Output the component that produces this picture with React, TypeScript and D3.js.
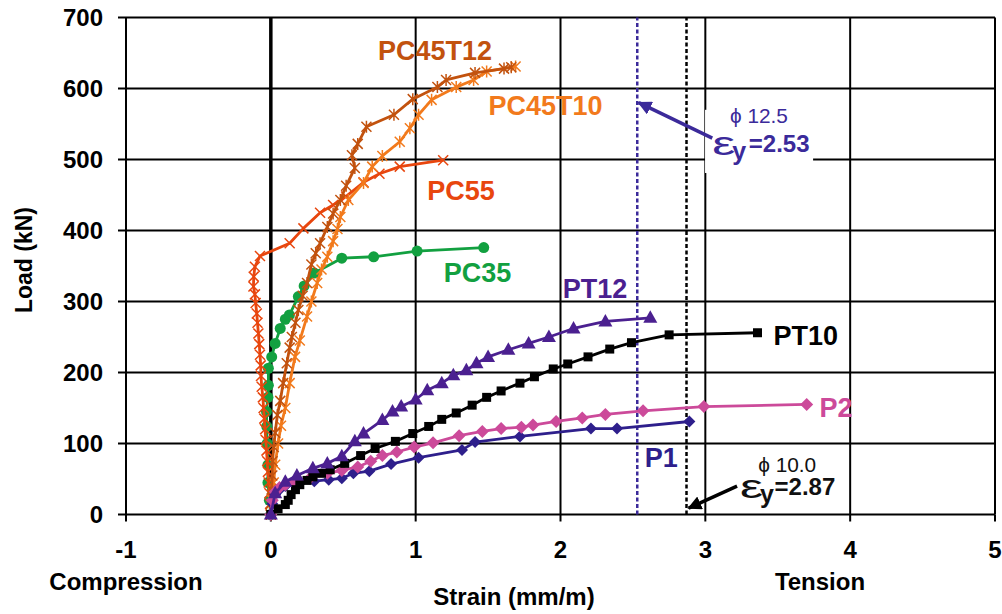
import React, { useEffect, useRef } from "react";
import * as d3 from "d3";

// axis ticks
const xTicks = [-1, 0, 1, 2, 3, 4, 5];
const yTicks = [0, 100, 200, 300, 400, 500, 600, 700];

// [strain (mm/m), load (kN)]
const pc45t12 = [[0,0],[0,15],[0.005,35],[0.01,55],[0.012,75],[0.02,95],[0.03,115],[0.045,140],[0.065,160],[0.085,185],[0.11,213],[0.13,235],[0.145,250],[0.17,270],[0.19,288],[0.22,308],[0.25,326],[0.28,352],[0.31,368],[0.34,382],[0.39,405],[0.43,424],[0.48,443],[0.52,463],[0.58,488],[0.56,506],[0.6,522],[0.66,546],[0.85,563],[0.98,585],[1.15,602],[1.21,612],[1.41,622],[1.61,628],[1.66,630]];
const pc45t10 = [[0,0],[0.01,20],[0.02,45],[0.03,70],[0.05,100],[0.07,125],[0.1,150],[0.13,185],[0.167,222],[0.2,245],[0.25,279],[0.28,300],[0.32,326],[0.35,345],[0.39,363],[0.43,385],[0.46,402],[0.48,419],[0.535,443],[0.64,467],[0.7,490],[0.77,505],[0.89,525],[0.96,544],[1.02,563],[1.11,584],[1.28,602],[1.4,612],[1.49,624],[1.69,631]];
const pc55 = [[0,0],[-0.005,15],[-0.01,30],[-0.015,45],[-0.02,60],[-0.025,75],[-0.03,90],[-0.035,105],[-0.04,120],[-0.045,135],[-0.05,150],[-0.055,165],[-0.063,180],[-0.068,195],[-0.07,210],[-0.075,225],[-0.08,240],[-0.086,255],[-0.092,270],[-0.097,283],[-0.105,298],[-0.11,310],[-0.12,321],[-0.118,335],[-0.11,349],[-0.075,364],[0.13,382],[0.225,403],[0.34,425],[0.43,436],[0.52,448],[0.64,468],[0.75,480],[0.89,490],[1.19,499]];
const pc35 = [[0,0],[-0.01,20],[-0.02,45],[-0.02,70],[-0.025,100],[-0.028,124],[-0.03,145],[-0.02,165],[-0.017,182],[-0.017,206],[0.006,222],[0.03,241],[0.065,262],[0.1,275],[0.128,281],[0.19,307],[0.23,322],[0.3,340],[0.49,361],[0.71,363],[1.01,371],[1.47,376]];
const pt12 = [[0,0],[0.03,30],[0.1,46],[0.18,55],[0.29,65],[0.39,72],[0.49,82],[0.58,103],[0.64,114],[0.77,133],[0.84,145],[0.9,152],[1.0,162],[1.08,175],[1.18,185],[1.26,196],[1.35,203],[1.42,213],[1.5,222],[1.64,232],[1.78,241],[1.92,250],[2.09,262],[2.31,272],[2.62,277]];
const pt10 = [[0,0],[0.05,8],[0.1,14],[0.12,20],[0.14,28],[0.17,35],[0.2,42],[0.25,48],[0.29,53],[0.35,58],[0.41,63],[0.51,72],[0.62,83],[0.72,93],[0.86,103],[0.98,114],[1.09,124],[1.18,134],[1.28,143],[1.39,154],[1.49,165],[1.59,174],[1.72,185],[1.82,194],[1.95,205],[2.05,212],[2.19,222],[2.34,233],[2.49,242],[2.75,253],[3.36,256]];
const p2 = [[0,0],[0.01,20],[0.03,32],[0.06,38],[0.1,42],[0.16,46],[0.27,51],[0.39,58],[0.49,62],[0.6,67],[0.69,75],[0.77,83],[0.87,88],[0.99,95],[1.12,101],[1.3,111],[1.46,117],[1.59,121],[1.73,123],[1.81,126],[1.97,131],[2.15,136],[2.31,141],[2.57,146],[2.99,152],[3.7,155]];
const p1 = [[0,0],[0.01,15],[0.03,28],[0.06,35],[0.1,40],[0.2,44],[0.3,47],[0.4,49],[0.49,51],[0.57,58],[0.68,61],[0.83,71],[1.02,80],[1.32,91],[1.41,102],[1.72,110],[2.21,121],[2.39,121],[2.89,131]];

// yield strains
const yieldLines = [
  { value: 2.53, color: "#3B2A9A" },
  { value: 2.87, color: "#000000" },
];

const series = [
  { name: "PC35", data: pc35, color: "#12A040", marker: "circle", label: [1.427, 327] },
  { name: "PC55", data: pc55, color: "#E8460E", marker: "x", label: [1.313, 443] },
  { name: "PC45T10", data: pc45t10, color: "#F27A1C", marker: "star", label: [1.897, 563] },
  { name: "PC45T12", data: pc45t12, color: "#C2520E", marker: "star", label: [1.134, 640] },
  { name: "P1", data: p1, color: "#2E1F8C", marker: "diamond", label: [2.695, 67] },
  { name: "P2", data: p2, color: "#CC4A9A", marker: "diamondL", label: [3.903, 137] },
  { name: "PT10", data: pt10, color: "#000000", marker: "square", label: [3.693, 239] },
  { name: "PT12", data: pt12, color: "#4B2090", marker: "triangle", label: [2.239, 305] },
];

const FONT = "'Liberation Sans', Arial, sans-serif";

const markerPath = (type: string) => {
  switch (type) {
    case "x":
      return "M-5,-5L5,5M-5,5L5,-5";
    case "star":
      return "M-5,-5L5,5M-5,5L5,-5M0,-6L0,6";
    case "triangle":
      return "M0,-7.5L7,5L-7,5Z";
    case "square":
      return "M-4.5,-4.5L4.5,-4.5L4.5,4.5L-4.5,4.5Z";
    case "diamond":
      return "M0,-6L6,0L0,6L-6,0Z";
    case "diamondL":
      return "M0,-6.5L6.5,0L0,6.5L-6.5,0Z";
    default:
      return "";
  }
};

const App = () => {
  const chartRef = useRef<HTMLDivElement>(null);

  useEffect(() => {
    d3.select(chartRef.current).select("svg").remove();

    const W = 1002;
    const H = 614;

    const svg = d3
      .select(chartRef.current)
      .append("svg")
      .attr("width", W)
      .attr("height", H)
      .style("position", "absolute")
      .style("left", "0px")
      .style("top", "0px")
      .style("background", "#fff");

    const x = d3.scaleLinear().domain([-1, 5]).range([126, 995]);
    const y = d3.scaleLinear().domain([0, 700]).range([514.5, 17.5]);

    // gridlines
    const grid = svg.append("g");
    grid.selectAll(".hgrid")
      .data(yTicks)
      .enter()
      .append("line")
      .attr("x1", x(-1))
      .attr("x2", x(5))
      .attr("y1", (d) => y(d))
      .attr("y2", (d) => y(d))
      .attr("stroke", "#000")
      .attr("stroke-width", 2);
    grid.selectAll(".vgrid")
      .data(xTicks)
      .enter()
      .append("line")
      .attr("x1", (d) => x(d))
      .attr("x2", (d) => x(d))
      .attr("y1", y(0))
      .attr("y2", y(700))
      .attr("stroke", "#000")
      .attr("stroke-width", (d) => (d === 0 ? 3.5 : 2));

    // ticks
    grid.selectAll(".ytick")
      .data(yTicks)
      .enter()
      .append("line")
      .attr("x1", x(-1) - 8)
      .attr("x2", x(-1))
      .attr("y1", (d) => y(d))
      .attr("y2", (d) => y(d))
      .attr("stroke", "#000")
      .attr("stroke-width", 2);
    grid.selectAll(".xtick")
      .data(xTicks)
      .enter()
      .append("line")
      .attr("x1", (d) => x(d))
      .attr("x2", (d) => x(d))
      .attr("y1", y(0))
      .attr("y2", y(0) + 7)
      .attr("stroke", "#000")
      .attr("stroke-width", 2);

    // tick labels
    svg.selectAll(".ylab")
      .data(yTicks)
      .enter()
      .append("text")
      .attr("x", 103)
      .attr("y", (d) => y(d))
      .attr("dy", "0.36em")
      .attr("text-anchor", "end")
      .style("font-family", FONT)
      .style("font-weight", "bold")
      .style("font-size", "24px")
      .text((d) => d);
    svg.selectAll(".xlab")
      .data(xTicks)
      .enter()
      .append("text")
      .attr("x", (d) => x(d))
      .attr("y", 558)
      .attr("text-anchor", "middle")
      .style("font-family", FONT)
      .style("font-weight", "bold")
      .style("font-size", "24px")
      .text((d) => d);

    // axis titles
    const title = (txt: string, tx: number, ty: number) =>
      svg.append("text")
        .attr("x", tx)
        .attr("y", ty)
        .attr("text-anchor", "middle")
        .style("font-family", FONT)
        .style("font-weight", "bold")
        .style("font-size", "24px")
        .text(txt);
    title("Compression", 126, 590);
    title("Tension", 820, 590);
    title("Strain (mm/m)", 514, 605);
    svg.append("text")
      .attr("transform", "translate(32,260) rotate(-90)")
      .attr("text-anchor", "middle")
      .style("font-family", FONT)
      .style("font-weight", "bold")
      .style("font-size", "23px")
      .text("Load (kN)");

    // white box behind the 12.5 annotation
    svg.append("rect")
      .attr("x", x(2.998))
      .attr("y", y(570))
      .attr("width", x(3.744) - x(2.998))
      .attr("height", y(481) - y(570))
      .attr("fill", "#fff");

    // yield strain lines
    svg.selectAll(".yield")
      .data(yieldLines)
      .enter()
      .append("line")
      .attr("x1", (d) => x(d.value))
      .attr("x2", (d) => x(d.value))
      .attr("y1", y(0))
      .attr("y2", y(700))
      .attr("stroke", (d) => d.color)
      .attr("stroke-width", 2.5)
      .attr("stroke-dasharray", "4,2.5");

    // series
    const line = d3.line<number[]>()
      .x((d) => x(d[0]))
      .y((d) => y(d[1]));

    series.forEach((s) => {
      const g = svg.append("g");
      g.append("path")
        .attr("d", line(s.data))
        .attr("fill", "none")
        .attr("stroke", s.color)
        .attr("stroke-width", 2.8)
        .attr("stroke-linejoin", "round");
      const pts = g.selectAll(".pt")
        .data(s.data)
        .enter();
      if (s.marker === "circle") {
        pts.append("circle")
          .attr("cx", (d) => x(d[0]))
          .attr("cy", (d) => y(d[1]))
          .attr("r", 5.5)
          .attr("fill", s.color);
      } else if (s.marker === "x" || s.marker === "star") {
        pts.append("path")
          .attr("transform", (d) => `translate(${x(d[0])},${y(d[1])})`)
          .attr("d", markerPath(s.marker))
          .attr("fill", "none")
          .attr("stroke", s.color)
          .attr("stroke-width", 1.5);
      } else {
        pts.append("path")
          .attr("transform", (d) => `translate(${x(d[0])},${y(d[1])})`)
          .attr("d", markerPath(s.marker))
          .attr("fill", s.color);
      }
    });

    // series labels
    series.forEach((s) => {
      svg.append("text")
        .attr("x", x(s.label[0]))
        .attr("y", y(s.label[1]))
        .attr("text-anchor", "middle")
        .style("font-family", FONT)
        .style("font-weight", "bold")
        .style("font-size", "27px")
        .attr("fill", s.color)
        .text(s.name);
    });

    // arrows
    const defs = svg.append("defs");
    const arrowHead = (id: string, color: string) =>
      defs.append("marker")
        .attr("id", id)
        .attr("viewBox", "0 0 10 10")
        .attr("refX", 9)
        .attr("refY", 5)
        .attr("markerWidth", 4)
        .attr("markerHeight", 4)
        .attr("orient", "auto")
        .append("path")
        .attr("d", "M0,0L10,5L0,10Z")
        .attr("fill", color);
    arrowHead("ah1", "#3B2A9A");
    arrowHead("ah2", "#000");

    svg.append("line")
      .attr("x1", x(3.048))
      .attr("y1", y(530))
      .attr("x2", x(2.54))
      .attr("y2", y(580))
      .attr("stroke", "#3B2A9A")
      .attr("stroke-width", 3.5)
      .attr("marker-end", "url(#ah1)");
    svg.append("line")
      .attr("x1", x(3.219))
      .attr("y1", y(40))
      .attr("x2", x(2.885))
      .attr("y2", y(9))
      .attr("stroke", "#000")
      .attr("stroke-width", 3.5)
      .attr("marker-end", "url(#ah2)");

    // yield annotations
    const annot = (
      color: string, phi: string, val: string,
      px: number, py: number, ex: number, ey: number, vx: number
    ) => {
      svg.append("text")
        .attr("x", x(px))
        .attr("y", y(py))
        .attr("fill", color)
        .attr("textLength", 58)
        .attr("lengthAdjust", "spacingAndGlyphs")
        .style("font-family", FONT)
        .style("font-size", "21px")
        .text(phi);
      svg.append("text")
        .attr("x", x(ex))
        .attr("y", y(ey))
        .attr("fill", color)
        .attr("textLength", 23)
        .attr("lengthAdjust", "spacingAndGlyphs")
        .style("font-family", FONT)
        .style("font-size", "34px")
        .text("ε");
      svg.append("text")
        .attr("x", x(ex) + 20)
        .attr("y", y(ey) + 5)
        .attr("fill", color)
        .style("font-family", FONT)
        .style("font-weight", "bold")
        .style("font-size", "25px")
        .text("y");
      svg.append("text")
        .attr("x", x(vx))
        .attr("y", y(ey) - 3)
        .attr("fill", color)
        .style("font-family", FONT)
        .style("font-weight", "bold")
        .style("font-size", "24px")
        .text(val);
    };
    annot("#3B2A9A", "ϕ 12.5", "=2.53", 3.17, 552, 3.048, 507, 3.3);
    annot("#111", "ϕ 10.0", "=2.87", 3.365, 60, 3.24, 23, 3.478);
  }, []);

  return <div ref={chartRef}></div>;
};

export default App;
